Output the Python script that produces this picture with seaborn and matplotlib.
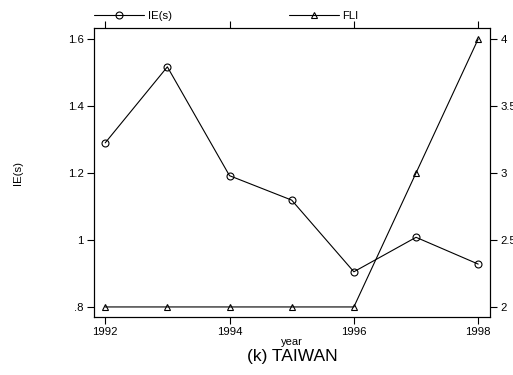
import matplotlib
matplotlib.use("Agg")
import matplotlib.pyplot as plt
import seaborn as sns
import pandas as pd

sns.set_style("ticks")
plt.rcParams['font.family'] = ['Liberation Sans', 'DejaVu Sans']
plt.rcParams['text.color'] = 'black'
plt.rcParams['axes.labelcolor'] = 'black'

# data
years = [1992, 1993, 1994, 1995, 1996, 1997, 1998]
ie_s = [1.290, 1.517, 1.192, 1.119, 0.905, 1.008, 0.928]
fli = [2, 2, 2, 2, 2, 3, 4]

df = pd.DataFrame({'year': years, 'IE(s)': ie_s, 'FLI': fli})

fig = plt.figure(figsize=(5.13, 3.75), dpi=100)
ax = fig.add_axes([94 / 513, 1 - 317 / 375, (490 - 94) / 513, (317 - 28) / 375])
ax2 = ax.twinx()

line_kw = dict(color='black', linewidth=0.8, markersize=5,
               markerfacecolor='none', markeredgecolor='black', markeredgewidth=0.8)
sns.lineplot(data=df, x='year', y='IE(s)', ax=ax, marker='o', label='IE(s)', legend=False, **line_kw)
sns.lineplot(data=df, x='year', y='FLI', ax=ax2, marker='^', label='FLI', legend=False, **line_kw)

ax.set_xlim(1991.82, 1998.19)
ax.set_ylim(0.770, 1.633)
ax2.set_ylim(1.925, 4.082)

ax.set_xticks([1992, 1994, 1996, 1998])
ax.set_yticks([0.8, 1.0, 1.2, 1.4, 1.6])
ax.set_yticklabels(['.8', '1', '1.2', '1.4', '1.6'])
ax2.set_yticks([2, 2.5, 3, 3.5, 4])
ax2.set_yticklabels(['2', '2.5', '3', '3.5', '4'])

tick_kw = dict(direction='out', length=5, width=0.8, color='black', labelcolor='black',
               labelsize=8.2, pad=2.5)
ax.tick_params(axis='x', top=True, labeltop=False, **tick_kw)
ax.tick_params(axis='y', **tick_kw)
ax2.tick_params(axis='y', **tick_kw)

for a in (ax, ax2):
    for s in a.spines.values():
        s.set_visible(True)
        s.set_color('black')
        s.set_linewidth(0.8)

ax.set_xlabel('year', fontsize=8, labelpad=0)
ax.set_ylabel('IE(s)', fontsize=8.2, labelpad=32)
ax2.set_ylabel('')

h1, l1 = ax.get_legend_handles_labels()
h2, l2 = ax2.get_legend_handles_labels()
ax.legend(h1 + h2, l1 + l2, loc='lower left', bbox_to_anchor=(0, 1.025), ncol=2,
          frameon=False, fontsize=8.2, handlelength=4.4, handletextpad=0.3,
          columnspacing=10.3, borderaxespad=0, borderpad=0)

fig.text(292 / 513, 1 - 357 / 375, '(k) TAIWAN', ha='center', va='center', fontsize=12.5)

fig.savefig('out.png', dpi=100)
